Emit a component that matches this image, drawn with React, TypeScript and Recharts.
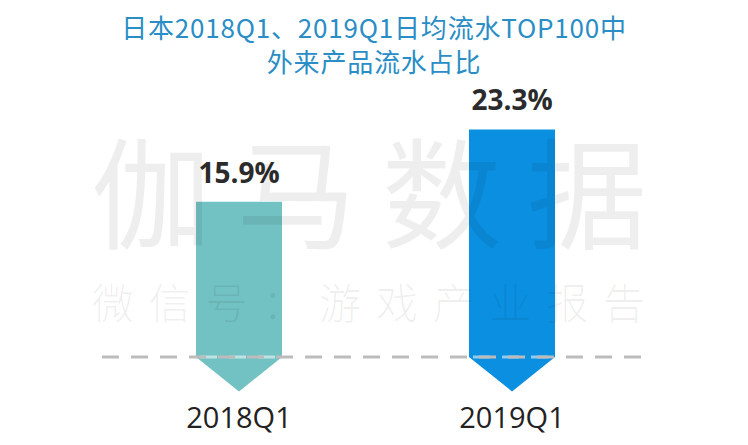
import { BarChart, Bar, XAxis, YAxis, Cell, LabelList, ReferenceLine } from 'recharts';

const categories = ['2018Q1', '2019Q1'];
const shares = [15.9, 23.3];
const shareLabels = ['15.9%', '23.3%'];
const barColors = ['#72c1c3', '#0b8fe0'];

const titleLines = ['日本2018Q1、2019Q1日均流水TOP100中', '外来产品流水占比'];
const watermarkMain = '伽马数据';
const watermarkSub = '微信号：游戏产业报告';

const data = categories.map((name, i) => ({
  name,
  value: shares[i],
  label: shareLabels[i],
}));

const W = 748;
const H = 445;

// bar drawn as a downward arrow: body down to the baseline, point below it
function ArrowBar(props: any) {
  const { x, y, width, height, fill } = props;
  const tip = width * 0.4;
  const bottom = y + height;
  const d = `M${x},${y} H${x + width} V${bottom} L${x + width / 2},${bottom + tip} L${x},${bottom} Z`;
  return (
    <g>
      <path d={d} fill={fill} />
      <line
        x1={x}
        x2={x + width}
        y1={bottom}
        y2={bottom}
        stroke="rgba(255,255,255,0.55)"
        strokeWidth={3}
        strokeDasharray="17 12"
        strokeDashoffset={-4}
      />
    </g>
  );
}

function CategoryLabel(props: any) {
  const { x, y, width, height, value } = props;
  return (
    <text
      x={x + width / 2}
      y={y + height + 71}
      textAnchor="middle"
      fontSize={29}
      fontFamily="'Open Sans', sans-serif"
      fill="#222"
    >
      {value}
    </text>
  );
}

export default function App() {
  const mainSize = 120;
  const subSize = 42;
  const mainStep = (647 - 91 - mainSize) / (watermarkMain.length - 1);
  const subStep = (645 - 92 - subSize) / (watermarkSub.length - 1);
  return (
    <div style={{ position: 'fixed', left: 0, top: 0, width: W, height: H, background: '#fff' }}>
      <BarChart
        width={W}
        height={H}
        data={data}
        margin={{ top: 64, right: 100, bottom: 88, left: 102 }}
      >
        <XAxis dataKey="name" hide />
        <YAxis hide domain={[0, 30]} />
        <ReferenceLine y={0} stroke="#bcbcbc" strokeWidth={3} strokeDasharray="17 12" />
        <Bar dataKey="value" barSize={86} shape={ArrowBar} isAnimationActive={false}>
          {data.map((d, i) => (
            <Cell key={d.name} fill={barColors[i]} />
          ))}
          <LabelList
            dataKey="label"
            position="top"
            offset={19}
            fill="#2b2b2b"
            fontSize={28}
            fontWeight={700}
            fontFamily="'Open Sans', sans-serif"
          />
          <LabelList dataKey="name" content={CategoryLabel} />
        </Bar>
      </BarChart>
      <svg
        width={W}
        height={H}
        style={{ position: 'absolute', left: 0, top: 0, pointerEvents: 'none' }}
      >
        {titleLines.map((t, i) => (
          <text
            key={t}
            x={374}
            y={38 + i * 34}
            textAnchor="middle"
            fontSize={26}
            letterSpacing={0.8}
            fontFamily="'Noto Sans CJK SC', sans-serif"
            fill="#2a8dc5"
          >
            {t}
          </text>
        ))}
        {watermarkMain.split('').map((c, i) => (
          <text
            key={c}
            x={91 + i * mainStep}
            y={240}
            fontSize={mainSize}
            fontFamily="'Noto Sans CJK SC', sans-serif"
            fill="rgba(0,0,0,0.065)"
          >
            {c}
          </text>
        ))}
        {watermarkSub.split('').map((c, i) => (
          <text
            key={c + i}
            x={92 + i * subStep}
            y={319}
            fontSize={subSize}
            fontWeight={300}
            fontFamily="'Noto Sans CJK SC', sans-serif"
            fill="rgba(0,0,0,0.065)"
          >
            {c}
          </text>
        ))}
      </svg>
    </div>
  );
}
